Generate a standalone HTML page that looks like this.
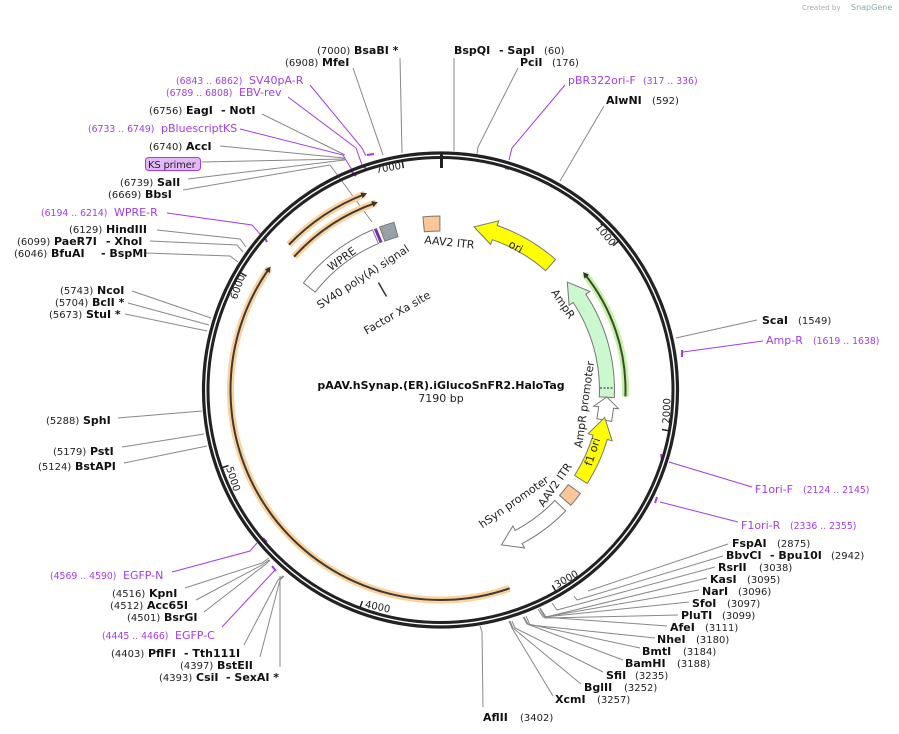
<!DOCTYPE html>
<html><head><meta charset="utf-8"><style>
html,body{margin:0;padding:0;background:#fff;}
svg{display:block;}
.n{font-family:"DejaVu Sans","Liberation Sans",sans-serif;font-size:10px;fill:#222;}
.e{font-family:"DejaVu Sans","Liberation Sans",sans-serif;font-size:11px;font-weight:bold;fill:#111;}
.p{font-family:"DejaVu Sans","Liberation Sans",sans-serif;font-size:11px;fill:#a33be8;}
.pn{font-family:"DejaVu Sans","Liberation Sans",sans-serif;font-size:9.3px;fill:#a33be8;}
.f{font-family:"DejaVu Sans","Liberation Sans",sans-serif;font-size:11px;fill:#222;}
.t{font-family:"DejaVu Sans","Liberation Sans",sans-serif;font-size:10px;fill:#222;}
.g line,.g polyline{stroke:#888;stroke-width:1;fill:none;}
.pl line,.pl polyline{stroke:#a33be8;stroke-width:1;fill:none;}
</style></head><body>
<svg width="899" height="734" viewBox="0 0 899 734" xmlns="http://www.w3.org/2000/svg">
<defs>
<marker id="ah" markerWidth="6" markerHeight="6" refX="4" refY="3" orient="auto" markerUnits="userSpaceOnUse"><path d="M0,0 L6,3 L0,6 Z" fill="#333"/></marker>
</defs>
<text x="802" y="10" font-family="DejaVu Sans,sans-serif" font-size="7" fill="#aaa">Created by</text>
<text x="851" y="10" font-family="DejaVu Sans,sans-serif" font-size="8" fill="#8aa">SnapGene</text>

<g class="g">
<line x1="400" y1="58" x2="402" y2="153"/>
<line x1="353" y1="68" x2="383" y2="155"/>
<line x1="262" y1="114" x2="345" y2="155"/>
<line x1="220" y1="146" x2="344" y2="158"/>
<line x1="202" y1="162" x2="345" y2="159"/>
<line x1="188" y1="179" x2="345" y2="160"/>
<line x1="183" y1="190" x2="330" y2="165"/>
<line x1="330" y1="165" x2="372" y2="222"/>
<polyline points="157,230 240,239 246,247"/>
<polyline points="150,241 237,245 243,252"/>
<polyline points="146,253 230,256 238,262"/>
<line x1="132" y1="291" x2="211" y2="318"/>
<line x1="128" y1="303" x2="209" y2="325"/>
<line x1="125" y1="314" x2="207" y2="331"/>
<line x1="118" y1="418" x2="202" y2="411"/>
<line x1="122" y1="447" x2="204" y2="434"/>
<line x1="124" y1="463" x2="207" y2="446"/>
<polyline points="185,588 262,563 269,558"/>
<polyline points="196,600 262,565 269,560"/>
<polyline points="204,612 266,564 270,560"/>
<polyline points="244,645 278,580 283,576"/>
<polyline points="260,657 280,580 284,576"/>
<line x1="280" y1="667" x2="280" y2="576"/>
<line x1="454" y1="58" x2="454" y2="151"/>
<polyline points="518,68 478,147 477,154"/>
<line x1="604" y1="106" x2="560" y2="181"/>
<line x1="757" y1="320" x2="676" y2="338"/>
<line x1="728" y1="544" x2="588" y2="591"/>
<polyline points="723,556 577,600 574,596"/>
<polyline points="715,567 557,610 552,603"/>
<polyline points="707,578 546,617 540,608"/>
<polyline points="699,590 545,617 540,608"/>
<polyline points="689,602 545,617 540,608"/>
<polyline points="678,615 545,618 540,609"/>
<polyline points="667,626 543,617 538,609"/>
<polyline points="655,638 530,625 526,616"/>
<polyline points="640,648 528,624 524,617"/>
<polyline points="623,660 527,624 523,617"/>
<polyline points="603,672 515,628 512,621"/>
<polyline points="581,684 513,628 510,621"/>
<polyline points="553,696 512,628 509,621"/>
<polyline points="483,707 482,632 480,626"/>
</g>
<g class="pl">
<polyline points="310,85 362,148 366,156"/>
<polyline points="288,97 356,148 362,165"/>
<polyline points="240,129 343,155 352,170"/>
<polyline points="167,213 252,225 262,236"/>
<polyline points="565,85 512,148 509,160"/>
<polyline points="763,341 683,352"/>
<polyline points="752,487 669,462"/>
<polyline points="738,522 660,502"/>
<polyline points="172,572 250,551 257,543"/>
<polyline points="222,627 275,570"/>
</g>
<g stroke="#a33be8" stroke-width="2" fill="none">
<line x1="367" y1="155" x2="374" y2="154"/>
<line x1="362" y1="166" x2="366" y2="168"/>
<line x1="352" y1="172" x2="356" y2="176"/>
<line x1="265" y1="238" x2="267" y2="242"/>
<line x1="505" y1="168" x2="509" y2="169"/>
<line x1="682" y1="350" x2="682" y2="357"/>
<line x1="661" y1="454" x2="662" y2="460"/>
<line x1="657" y1="497" x2="655" y2="503"/>
<line x1="263" y1="538" x2="267" y2="542"/>
<line x1="272" y1="566" x2="276" y2="571"/>
</g>

<circle cx="440.5" cy="390" r="237" fill="none" stroke="#222" stroke-width="3.2"/>
<circle cx="440.5" cy="390" r="232.5" fill="none" stroke="#222" stroke-width="3"/>

<g stroke="#222" stroke-width="1.5">
<line x1="618.5" y1="241.2" x2="613.1" y2="245.7"/>
<line x1="668.9" y1="430.7" x2="662" y2="429.5"/>
<line x1="555.8" y1="591.3" x2="552.3" y2="585.3"/>
<line x1="360" y1="607.6" x2="362.4" y2="601"/>
<line x1="221.9" y1="467.8" x2="228.5" y2="465.5"/>
<line x1="240.4" y1="272.6" x2="246.4" y2="276.2"/>
<line x1="402.2" y1="161.2" x2="403.4" y2="168.1"/>
</g>
<line x1="441.5" y1="154" x2="441.5" y2="168" stroke="#222" stroke-width="3"/>
<text class="t" transform="translate(389,171) rotate(-10)" text-anchor="middle">7000</text>
<text class="t" transform="translate(603,237) rotate(50)" text-anchor="middle">1000</text>
<text class="t" transform="translate(670,411) rotate(-88)" text-anchor="middle">2000</text>
<text class="t" transform="translate(568,582) rotate(-30)" text-anchor="middle">3000</text>
<text class="t" transform="translate(377,610) rotate(12)" text-anchor="middle">4000</text>
<text class="t" transform="translate(230,480) rotate(72)" text-anchor="middle">5000</text>
<text class="t" transform="translate(241,288) rotate(-70)" text-anchor="middle">6000</text>

<g fill="none">
<path d="M509.6,588.3 A210,210 0 0 1 269.5,268.1" stroke="#fdd199" stroke-width="7"/>
<path d="M288.9,244.7 A210,210 0 0 1 365.2,194" stroke="#fdd199" stroke-width="7"/>
<path d="M294.1,256.7 A198,198 0 0 1 376,202.8" stroke="#fdd199" stroke-width="7"/>
<path d="M625.4,396.5 A185,185 0 0 0 584.3,273.6" stroke="#c6f2a6" stroke-width="7"/>
<path d="M509.6,588.3 A210,210 0 0 1 269.5,268.1" stroke="#3a3a3a" stroke-width="2" marker-end="url(#ah)"/>
<path d="M288.9,244.7 A210,210 0 0 1 365.2,194" stroke="#3a3a3a" stroke-width="2" marker-end="url(#ah)"/>
<path d="M294.1,256.7 A198,198 0 0 1 376,202.8" stroke="#3a3a3a" stroke-width="2" marker-end="url(#ah)"/>
<path d="M625.4,396.5 A185,185 0 0 0 584.3,273.6" stroke="#3a4a30" stroke-width="2" marker-end="url(#ah)"/>
</g>

<g stroke="#777" stroke-width="1">
<path d="M614.3,397.6 A174,174 0 0 0 585.8,294.2 L589.9,291.5 L567.3,282.1 L569.1,305.2 L573.2,302.5 A159,159 0 0 1 599.3,396.9 Z" fill="#ccf8d0"/>
<path d="M611.6,421.4 A174,174 0 0 0 613.5,408.2 L618.5,408.7 L606.8,397 L593.7,406.1 L598.6,406.6 A159,159 0 0 1 596.9,418.7 Z" fill="#fff"/>
<path d="M587.3,483.5 A174,174 0 0 0 607.3,439.4 L612.1,440.8 L604.7,417.5 L588.2,433.7 L593,435.2 A159,159 0 0 1 574.6,475.4 Z" fill="#ffff00"/>
<path d="M580.4,493.5 A174,174 0 0 1 570.8,505.3 L559.6,495.4 A159,159 0 0 0 568.3,484.6 Z" fill="#fbc79a"/>
<path d="M565.7,510.9 A174,174 0 0 1 522.2,543.6 L524.5,548 L501.5,544.9 L512.8,526 L515.2,530.4 A159,159 0 0 0 554.9,500.5 Z" fill="#fff"/>
<path d="M555.6,259.5 A174,174 0 0 0 497.2,225.5 L498.8,220.8 L474,226.9 L490.6,244.4 L492.3,239.7 A159,159 0 0 1 545.6,270.7 Z" fill="#ffff00"/>
<path d="M422.9,216.9 A174,174 0 0 1 439.9,216 L439.9,231 A159,159 0 0 0 424.4,231.8 Z" fill="#fbc79a"/>
<path d="M379.6,227 A174,174 0 0 1 394,222.3 L398,236.8 A159,159 0 0 0 384.8,241.1 Z" fill="#9aa0a8"/>
<path d="M303.4,282.9 A174,174 0 0 1 372.5,229.8 L378.4,243.6 A159,159 0 0 0 315.2,292.1 Z" fill="#fff"/>
</g>
<line x1="600" y1="388" x2="614" y2="388" stroke="#222" stroke-width="1" stroke-dasharray="2,1.5"/>
<line x1="381.1" y1="242.6" x2="375.3" y2="228.7" stroke="#7a2bc0" stroke-width="3"/>
<line x1="386.5" y1="296.5" x2="378.5" y2="282.6" stroke="#333" stroke-width="1.5"/>

<text class="f" transform="translate(514,250) rotate(30)" text-anchor="middle">ori</text>
<text class="f" transform="translate(449,246) rotate(6)" text-anchor="middle">AAV2 ITR</text>
<text class="f" transform="translate(344,262) rotate(-36)" text-anchor="middle">WPRE</text>
<text class="f" transform="translate(365,280) rotate(-33)" text-anchor="middle">SV40 poly(A) signal</text>
<text class="f" transform="translate(399,316) rotate(-30)" text-anchor="middle">Factor Xa site</text>
<text class="f" transform="translate(560,306) rotate(56)" text-anchor="middle">AmpR</text>
<text class="f" transform="translate(588,405) rotate(-82)" text-anchor="middle">AmpR promoter</text>
<text class="f" transform="translate(596,453) rotate(-72)" text-anchor="middle">f1 ori</text>
<text class="f" transform="translate(558,487) rotate(-55)" text-anchor="middle">AAV2 ITR</text>
<text class="f" transform="translate(516,505) rotate(-35)" text-anchor="middle">hSyn promoter</text>

<text x="441" y="389" text-anchor="middle" font-family="DejaVu Sans,sans-serif" font-size="11" font-weight="bold" fill="#111">pAAV.hSynap.(ER).iGlucoSnFR2.HaloTag</text>
<text x="441" y="402" text-anchor="middle" font-family="DejaVu Sans,sans-serif" font-size="11" fill="#222">7190 bp</text>

<text class="n" x="317" y="54">(7000)</text><text class="e" x="354" y="54">BsaBI *</text>
<text class="n" x="285" y="66">(6908)</text><text class="e" x="322" y="66">MfeI</text>
<text class="pn" x="176" y="84">(6843 .. 6862)</text><text class="p" x="249" y="84">SV40pA-R</text>
<text class="pn" x="166" y="96">(6789 .. 6808)</text><text class="p" x="239" y="96">EBV-rev</text>
<text class="n" x="149" y="114">(6756)</text><text class="e" x="186" y="114">EagI</text><text class="e" x="221" y="114">- NotI</text>
<text class="pn" x="88" y="132">(6733 .. 6749)</text><text class="p" x="161" y="132">pBluescriptKS</text>
<text class="n" x="149" y="150">(6740)</text><text class="e" x="186" y="150">AccI</text>
<rect x="145.5" y="157.5" width="55" height="13" rx="3" fill="#e2b8f7" stroke="#a33be8" stroke-width="1"/>
<text x="148" y="168" font-family="DejaVu Sans,sans-serif" font-size="10" letter-spacing="-0.2" fill="#222">KS primer</text>
<text class="n" x="120" y="186">(6739)</text><text class="e" x="157" y="186">SalI</text>
<text class="n" x="108" y="198">(6669)</text><text class="e" x="145" y="198">BbsI</text>
<text class="pn" x="41" y="216">(6194 .. 6214)</text><text class="p" x="114" y="216">WPRE-R</text>
<text class="n" x="69" y="233">(6129)</text><text class="e" x="106" y="233">HindIII</text>
<text class="n" x="17" y="245">(6099)</text><text class="e" x="54" y="245">PaeR7I</text><text class="e" x="106" y="245">- XhoI</text>
<text class="n" x="14" y="257">(6046)</text><text class="e" x="51" y="257">BfuAI</text><text class="e" x="101" y="257">- BspMI</text>
<text class="n" x="60" y="294">(5743)</text><text class="e" x="97" y="294">NcoI</text>
<text class="n" x="55" y="306">(5704)</text><text class="e" x="92" y="306">BclI *</text>
<text class="n" x="49" y="318">(5673)</text><text class="e" x="86" y="318">StuI *</text>
<text class="n" x="46" y="424">(5288)</text><text class="e" x="83" y="424">SphI</text>
<text class="n" x="53" y="455">(5179)</text><text class="e" x="90" y="455">PstI</text>
<text class="n" x="38" y="470">(5124)</text><text class="e" x="75" y="470">BstAPI</text>
<text class="pn" x="50" y="579">(4569 .. 4590)</text><text class="p" x="123" y="579">EGFP-N</text>
<text class="n" x="112" y="597">(4516)</text><text class="e" x="149" y="597">KpnI</text>
<text class="n" x="110" y="609">(4512)</text><text class="e" x="147" y="609">Acc65I</text>
<text class="n" x="127" y="621">(4501)</text><text class="e" x="164" y="621">BsrGI</text>
<text class="pn" x="102" y="639">(4445 .. 4466)</text><text class="p" x="175" y="639">EGFP-C</text>
<text class="n" x="111" y="657">(4403)</text><text class="e" x="148" y="657">PflFI</text><text class="e" x="184" y="657">- Tth111I</text>
<text class="n" x="180" y="669">(4397)</text><text class="e" x="217" y="669">BstEII</text>
<text class="n" x="159" y="681">(4393)</text><text class="e" x="196" y="681">CsiI</text><text class="e" x="226" y="681">- SexAI *</text>

<text class="e" x="454" y="54">BspQI</text><text class="e" x="499" y="54">- SapI</text><text class="n" x="544" y="54">(60)</text>
<text class="e" x="520" y="66">PciI</text><text class="n" x="552" y="66">(176)</text>
<text class="p" x="568" y="84">pBR322ori-F</text><text class="pn" x="643" y="84">(317 .. 336)</text>
<text class="e" x="606" y="104">AlwNI</text><text class="n" x="652" y="104">(592)</text>
<text class="e" x="762" y="324">ScaI</text><text class="n" x="798" y="324">(1549)</text>
<text class="p" x="766" y="344">Amp-R</text><text class="pn" x="813" y="344">(1619 .. 1638)</text>
<text class="p" x="755" y="493">F1ori-F</text><text class="pn" x="803" y="493">(2124 .. 2145)</text>
<text class="p" x="741" y="529">F1ori-R</text><text class="pn" x="790" y="529">(2336 .. 2355)</text>
<text class="e" x="732" y="547">FspAI</text><text class="n" x="777" y="547">(2875)</text>
<text class="e" x="726" y="559">BbvCI</text><text class="e" x="770" y="559">- Bpu10I</text><text class="n" x="831" y="559">(2942)</text>
<text class="e" x="718" y="571">RsrII</text><text class="n" x="759" y="571">(3038)</text>
<text class="e" x="710" y="583">KasI</text><text class="n" x="747" y="583">(3095)</text>
<text class="e" x="702" y="595">NarI</text><text class="n" x="738" y="595">(3096)</text>
<text class="e" x="692" y="607">SfoI</text><text class="n" x="727" y="607">(3097)</text>
<text class="e" x="681" y="619">PluTI</text><text class="n" x="722" y="619">(3099)</text>
<text class="e" x="670" y="631">AfeI</text><text class="n" x="705" y="631">(3111)</text>
<text class="e" x="657" y="643">NheI</text><text class="n" x="696" y="643">(3180)</text>
<text class="e" x="642" y="655">BmtI</text><text class="n" x="683" y="655">(3184)</text>
<text class="e" x="625" y="667">BamHI</text><text class="n" x="677" y="667">(3188)</text>
<text class="e" x="606" y="679">SfiI</text><text class="n" x="635" y="679">(3235)</text>
<text class="e" x="584" y="691">BglII</text><text class="n" x="624" y="691">(3252)</text>
<text class="e" x="555" y="703">XcmI</text><text class="n" x="597" y="703">(3257)</text>
<text class="e" x="483" y="721">AflII</text><text class="n" x="520" y="721">(3402)</text>
</svg>
</body></html>
